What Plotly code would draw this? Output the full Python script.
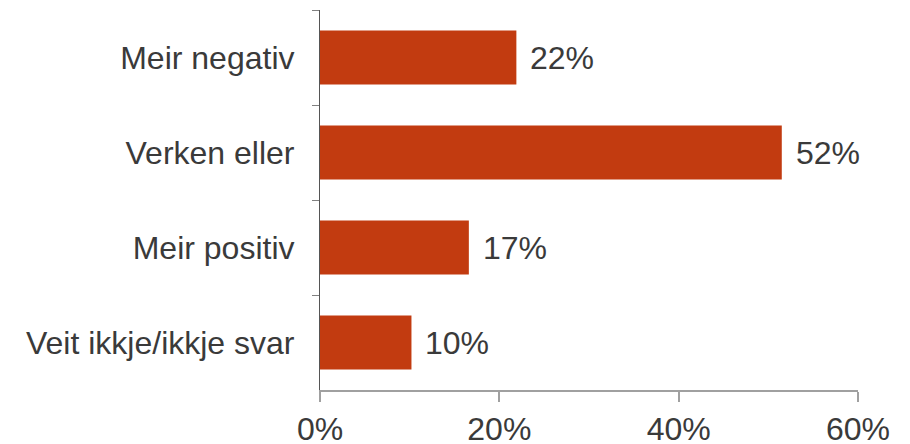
import plotly.graph_objects as go

categories = ["Meir negativ", "Verken eller", "Meir positiv", "Veit ikkje/ikkje svar"]
values = [21.9, 51.5, 16.6, 10.2]
labels = ["22%", "52%", "17%", "10%"]
x_ticks = [0, 20, 40, 60]
x_tick_labels = ["0%", "20%", "40%", "60%"]

FONT = "Liberation Sans, Arial, sans-serif"
TXT = "#3a3a3a"

fig = go.Figure()
fig.add_trace(go.Bar(
    y=categories, x=values, orientation="h",
    marker=dict(color="#C23B10", line=dict(width=0)),
    width=0.57,
    hoverinfo="skip",
))
for c, v, t in zip(categories, values, labels):
    fig.add_annotation(x=v, y=c, text=t, showarrow=False, xanchor="left",
                       xshift=12, font=dict(family=FONT, size=32, color=TXT))

fig.update_layout(
    width=910, height=444,
    margin=dict(l=312, r=60, t=2, b=62),
    plot_bgcolor="white", paper_bgcolor="white",
    showlegend=False,
    font=dict(family=FONT, size=32, color=TXT),
)
fig.update_xaxes(
    range=[0, 60], tickvals=x_ticks, ticktext=x_tick_labels,
    showgrid=False, zeroline=False, automargin=False,
    showline=True, linecolor="#a0a0a0", linewidth=1.5,
    ticks="outside", ticklen=10, tickcolor="#a0a0a0", tickwidth=1.5,
    tickfont=dict(family=FONT, size=32, color=TXT),
)
fig.update_yaxes(
    categoryorder="array", categoryarray=categories, autorange="reversed",
    showgrid=False, zeroline=False, automargin=False,
    showline=True, linecolor="#555555", linewidth=1.2,
    ticks="outside", ticklen=7, tickcolor="#808080", tickwidth=1.2,
    tickson="boundaries", ticklabelstandoff=18,
    tickfont=dict(family=FONT, size=32, color=TXT),
)
fig.write_html("out.html")
